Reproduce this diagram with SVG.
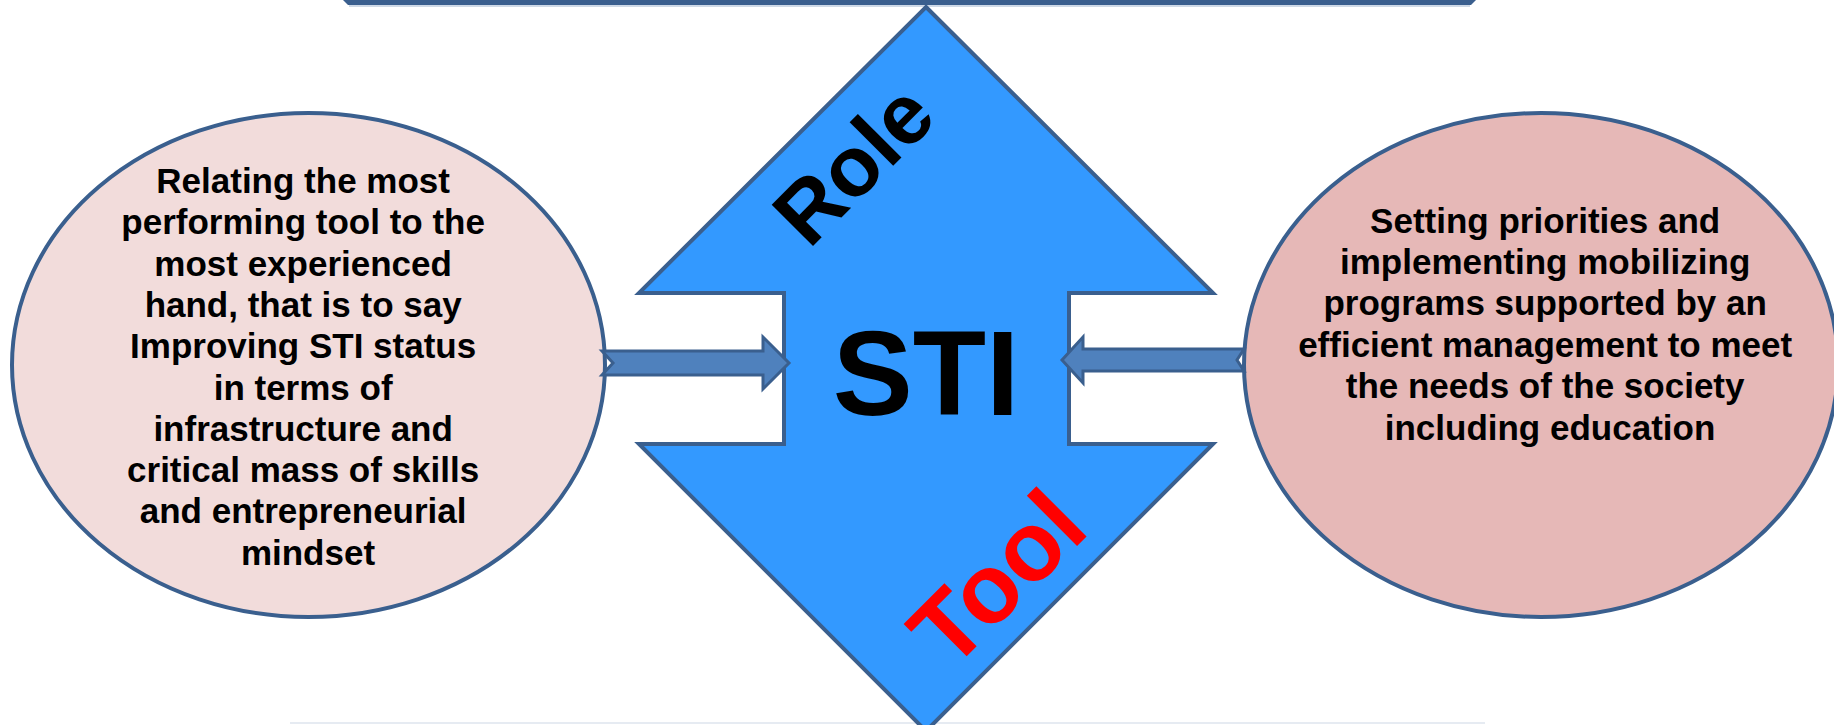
<svg xmlns="http://www.w3.org/2000/svg" width="1834" height="725" viewBox="0 0 1834 725">
<style>
.edge{stroke:#3A5F8E;stroke-width:4}
.txt{font-family:"Liberation Sans",Arial,sans-serif;font-weight:bold;fill:#000;text-anchor:middle}
.body{font-size:35px}
.arrow{fill:#4F81BD;stroke:#3A5F8E;stroke-width:3;stroke-linejoin:miter}
</style>
<rect width="1834" height="725" fill="#FFFFFF"/>
<g id="top-bar">
<path d="M343 0 L1476 0 L1471 5 L348 5 Z" fill="#3A5F8E"/>
<line x1="349" y1="6" x2="1470" y2="6" stroke="#9DB3CE" stroke-width="1"/>
</g>
<g id="bottom-edge">
<line x1="290" y1="723" x2="1485" y2="723" stroke="#E6EBF2" stroke-width="2"/>
</g>
<g id="sti-diamond">
<path class="edge" d="M926 7 L1213 293 L1069 293 L1069 444 L1213 444 L926 731 L639 444 L784 444 L784 293 L639 293 Z" fill="#3399FF"/>
<text class="txt" x="926" y="415" font-size="120">STI</text>
<text class="txt" font-size="85" transform="translate(874 185) rotate(-45)">Role</text>
<text class="txt" font-size="98" style="fill:#FF0000" transform="translate(1021 602) rotate(-45)">Tool</text>
</g>
<g id="left-ellipse">
<ellipse class="edge" cx="308.5" cy="365" rx="296.5" ry="252" fill="#F2DCDB"/>
<text class="txt body">
<tspan x="308" y="193">Relating the most</tspan>
<tspan x="308" y="234.3">performing tool to the</tspan>
<tspan x="308" y="275.6">most experienced</tspan>
<tspan x="308" y="316.9">hand, that is to say</tspan>
<tspan x="308" y="358.2">Improving STI status</tspan>
<tspan x="308" y="399.5">in terms of</tspan>
<tspan x="308" y="440.8">infrastructure and</tspan>
<tspan x="308" y="482.1">critical mass of skills</tspan>
<tspan x="308" y="523.4">and entrepreneurial</tspan>
<tspan x="308" y="564.7">mindset</tspan>
</text>
</g>
<g id="right-ellipse">
<ellipse class="edge" cx="1541" cy="365" rx="297" ry="252" fill="#E6B8B7"/>
<text class="txt body">
<tspan x="1550" y="232.5">Setting priorities and</tspan>
<tspan x="1550" y="273.9">implementing mobilizing</tspan>
<tspan x="1550" y="315.3">programs supported by an</tspan>
<tspan x="1550" y="356.7">efficient management to meet</tspan>
<tspan x="1550" y="398.1">the needs of the society</tspan>
<tspan x="1550" y="439.5">including education</tspan>
</text>
</g>
<g id="connectors">
<path class="arrow" d="M602 351 L763 351 L763 337 L789 363 L763 389 L763 375 L602 375 L613 363 Z"/>
<path class="arrow" d="M1244 349 L1083 349 L1083 337 L1062 360 L1083 383 L1083 371 L1244 371 L1237 360 Z"/>
</g>
</svg>
